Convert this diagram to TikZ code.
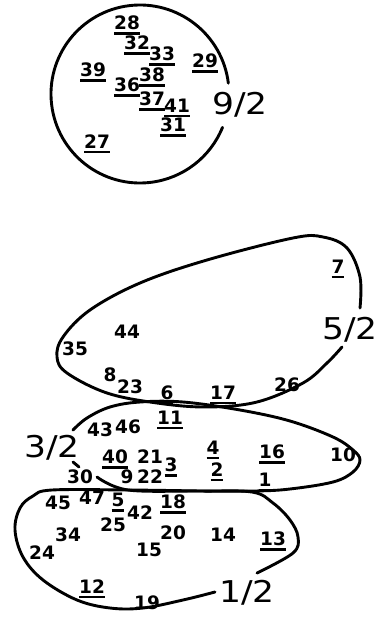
\documentclass[tikz,border=0pt]{standalone}
\usepackage{fontspec}
\setmainfont{DejaVu Sans}
\newcommand\ul[1]{\setbox0\hbox{#1}\vtop{\copy0\kern2.2pt\hrule height 2.3pt}}
\begin{document}
\begin{tikzpicture}[x=1pt,y=-1pt,
  n/.style={font=\fontsize{18.5}{18.5}\selectfont\bfseries, inner sep=0pt, anchor=base, yshift=-6.8pt},
  big/.style={font=\fontsize{30}{30}\selectfont, inner sep=0pt},
  curve/.style={line width=2.9pt, line cap=round, line join=round}]
\useasboundingbox (0,0) rectangle (381,619);
% 9/2 circle
\coordinate (c0) at (140,94);
\draw[curve] ([shift={(-7:89)}]c0) arc[start angle=-7, end angle=-338, radius=89];
% 5/2 blob
\draw[curve] plot[smooth, tension=0.6] coordinates {(360,308) (360,277) (347,248) (323,237) (293,238) (207,260) (140,283) (90,310) (63,337) (57,357) (67,373) (107,393) (157,403) (207,407) (257,402) (303,383) (327,363) (342,347)};
% 3/2 blob
\draw[curve] plot[smooth, tension=0.6] coordinates {(73,430) (87,418) (110,407) (140,402) (183,402) (240,410) (290,421) (333,437) (353,450) (360,460) (353,472) (333,482) (290,489) (255,491) (200,491) (128,490) (97,477)};
\draw[curve] (73,462) -- (79,467);
% 1/2 blob
\draw[curve] plot[smooth, tension=0.6] coordinates {(257,573) (293,553) (298,537) (290,520) (273,503) (252,492) (200,491) (128,490) (52,490) (33,496) (20,508) (15,530) (23,557) (43,580) (77,600) (110,608) (143,608) (183,600) (215,592)};
% big labels
\node[big] (f92) at (240,105) {\scalebox{1.15}[1]{9/2}};
\node[big] (f52) at (350,330) {\scalebox{1.15}[1]{5/2}};
\node[big] (f32) at (52,448) {\scalebox{1.15}[1]{3/2}};
\node[big] (f12) at (247,593) {\scalebox{1.15}[1]{1/2}};
% 9/2 numbers
\node[n] (l28) at (127,23) {\ul{28}};
\node[n] (l32) at (137,43) {\ul{32}};
\node[n] (l33) at (162,54) {\ul{33}};
\node[n] (l29) at (205,61) {\ul{29}};
\node[n] (l39) at (93,70) {\ul{39}};
\node[n] (l38) at (152,75) {\ul{38}};
\node[n] (l36) at (127,85) {\ul{36}};
\node[n] (l37) at (152,99) {\ul{37}};
\node[n] (l41) at (177,106) {\ul{41}};
\node[n] (l31) at (173,125) {\ul{31}};
\node[n] (l27) at (97,142) {\ul{27}};
% 5/2 numbers
\node[n] (l7) at (338,267) {\ul{7}};
\node[n] (l44) at (127,332) {44};
\node[n] (l35) at (75,349) {35};
\node[n] (l8) at (110,375) {8};
\node[n] (l23) at (130,387) {23};
\node[n] (l6) at (167,393) {\ul{6}};
\node[n] (l17) at (223,393) {\ul{17}};
\node[n] (l26) at (287,385) {26};
% 3/2 numbers
\node[n] (l11) at (170,418) {\ul{11}};
\node[n] (l43) at (100,430) {43};
\node[n] (l46) at (128,427) {46};
\node[n] (l40) at (115,457) {\ul{40}};
\node[n] (l21) at (150,457) {21};
\node[n] (l3) at (171,465) {\ul{3}};
\node[n] (l4) at (213,448) {\ul{4}};
\node[n] (l2) at (217,470) {\ul{2}};
\node[n] (l16) at (272,452) {\ul{16}};
\node[n] (l10) at (343,455) {10};
\node[n] (l30) at (80,477) {30};
\node[n] (l9) at (127,477) {9};
\node[n] (l22) at (150,477) {22};
\node[n] (l1) at (265,480) {\ul{1}};
% 1/2 numbers
\node[n] (l45) at (58,503) {45};
\node[n] (l47) at (92,498) {47};
\node[n] (l5) at (118,500) {\ul{5}};
\node[n] (l42) at (140,513) {42};
\node[n] (l18) at (173,502) {\ul{18}};
\node[n] (l25) at (113,525) {25};
\node[n] (l34) at (68,535) {34};
\node[n] (l20) at (173,533) {20};
\node[n] (l14) at (223,535) {14};
\node[n] (l13) at (273,539) {\ul{13}};
\node[n] (l24) at (42,553) {24};
\node[n] (l15) at (149,550) {15};
\node[n] (l12) at (92,587) {\ul{12}};
\node[n] (l19) at (147,603) {19};
\end{tikzpicture}
\end{document}
